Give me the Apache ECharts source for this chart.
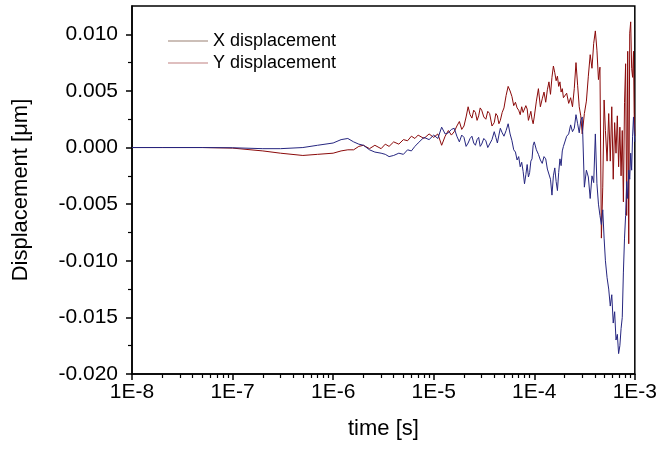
<!DOCTYPE html>
<html>
<head>
<meta charset="utf-8">
<script src="https://cdn.jsdelivr.net/npm/echarts@6/dist/echarts.min.js"></script>
<style>
  html, body { margin: 0; padding: 0; background: #fff; }
  #chart { width: 660px; height: 453px; }
</style>
</head>
<body>
<div id="chart"></div>
<script>
// time in seconds (log axis)
const times = [
  1e-8, 2e-8, 5e-8, 1e-7, 2e-7, 3e-7, 5e-7, 7e-7,
  1e-6, 1.2e-6, 1.4e-6, 1.6e-6, 1.8e-6, 2e-6, 2.3e-6, 2.6e-6, 3e-6, 3.3e-6,
  3.6e-6, 4e-6, 4.5e-6, 5e-6, 5.5e-6, 6e-6, 6.5e-6, 7e-6, 8e-6, 9e-6,
  1e-5, 1.1e-5, 1.2e-5, 1.3e-5, 1.4e-5, 1.5e-5, 1.6e-5, 1.7e-5, 1.8e-5, 1.9e-5,
  2e-5, 2.1e-5, 2.2e-5, 2.3e-5, 2.4e-5, 2.5e-5, 2.6e-5, 2.7e-5, 2.8e-5, 2.9e-5,
  3e-5, 3.15e-5, 3.3e-5, 3.45e-5, 3.6e-5, 3.8e-5, 4e-5, 4.15e-5, 4.3e-5, 4.45e-5,
  4.6e-5, 4.8e-5, 5e-5, 5.25e-5, 5.5e-5, 5.75e-5, 6e-5, 6.25e-5, 6.5e-5, 6.75e-5,
  7e-5, 7.25e-5, 7.5e-5, 7.75e-5, 8e-5, 8.25e-5, 8.5e-5, 8.75e-5, 9e-5, 9.25e-5,
  9.5e-5, 9.75e-5,
  1e-4, 1.05e-4, 1.1e-4, 1.15e-4, 1.2e-4, 1.25e-4, 1.3e-4, 1.35e-4, 1.4e-4, 1.45e-4,
  1.5e-4, 1.55e-4, 1.6e-4, 1.65e-4, 1.7e-4, 1.75e-4, 1.8e-4, 1.85e-4, 1.9e-4, 1.95e-4,
  2e-4, 2.1e-4, 2.2e-4, 2.3e-4, 2.4e-4, 2.5e-4, 2.6e-4, 2.7e-4, 2.8e-4, 2.9e-4,
  3e-4, 3.15e-4, 3.3e-4, 3.45e-4, 3.6e-4, 3.75e-4, 3.9e-4, 4.05e-4, 4.2e-4, 4.35e-4,
  4.5e-4, 4.65e-4, 4.8e-4, 4.95e-4,
  5.1e-4, 5.3e-4, 5.5e-4, 5.7e-4, 5.9e-4, 6.1e-4, 6.3e-4, 6.5e-4, 6.7e-4, 6.9e-4,
  7.1e-4, 7.3e-4, 7.5e-4, 7.7e-4, 7.9e-4, 8.1e-4, 8.3e-4, 8.5e-4, 8.7e-4, 8.9e-4,
  9.1e-4, 9.3e-4, 9.5e-4, 9.7e-4, 9.85e-4, 1e-3
];

const xDisp = [
  0, 0, 0, -0.00005, -0.0003, -0.0005, -0.0007, -0.0006,
  -0.0005, -0.0003, -0.0002, -0.0002, 0.0001, 0.0002, -0.0001, 0.0002, -0.0001, 0.0003,
  0.0001, 0.0005, 0.0003, 0.0007, 0.0006, 0.0010, 0.0008, 0.0011, 0.0008, 0.0012,
  0.0009, 0.0012, 0.0002, 0.0010, 0.0015, 0.0011, 0.0014, 0.0019, 0.0023, 0.0016,
  0.0019, 0.0027, 0.0036, 0.0029, 0.0026, 0.0033, 0.0031, 0.0024, 0.0028, 0.0035,
  0.0033, 0.0027, 0.0025, 0.0032, 0.0030, 0.0019, 0.0022, 0.0030, 0.0028, 0.0021,
  0.0024, 0.0031, 0.0035, 0.0046, 0.0054, 0.0050, 0.0045, 0.0037, 0.0040, 0.0035,
  0.0033, 0.0029, 0.0036, 0.0031, 0.0030, 0.0037, 0.0034, 0.0024, 0.0028, 0.0032,
  0.0025, 0.0021,
  0.0027, 0.0041, 0.0052, 0.0036, 0.0043, 0.0049, 0.0040, 0.0051, 0.0058, 0.0047,
  0.0062, 0.0072, 0.0066, 0.0059, 0.0063, 0.0054, 0.0058, 0.0049, 0.0052, 0.0044,
  0.0043, 0.0048, 0.0039, 0.0044, 0.0036, 0.0052, 0.0075, 0.0055, 0.0036, 0.0028,
  0.0012, 0.0030, 0.0041, 0.0063, 0.0082, 0.0070, 0.0092, 0.0103, 0.0086, 0.0060,
  0.0071, -0.0080, -0.0035, 0.0042,
  0.0015, -0.0012, 0.0030, -0.0012, 0.0036, -0.0028, 0.0022, -0.0005, 0.0028, -0.0017,
  0.0018, -0.0025, 0.0015, -0.0048, 0.0040, 0.0074, -0.0060, 0.0085, -0.0085, 0.0101,
  0.0111, 0.0070, 0.0062, 0.0085, 0.0030, 0.0010
];

const yDisp = [
  0, 0, 0, -0.00002, -0.0001, -0.0001, 0.0, 0.0002,
  0.0004, 0.0007, 0.0008, 0.0005, 0.0003, 0.0002, -0.0002, -0.0004, -0.0005, -0.0006,
  -0.0008, -0.0007, -0.0005, -0.0006, -0.0002, -0.0003, 0.0001, 0.0004, 0.0009, 0.0007,
  0.0011, 0.0008, 0.0018, 0.0012, 0.0013, 0.0016, 0.0017, 0.0010, 0.0005, 0.0011,
  0.0009, 0.0001, 0.0004, 0.0008, 0.0010, 0.0004, 0.0002, 0.0007, 0.0009, 0.0001,
  0.0003, 0.0008, 0.0006, 0.0000, -0.0001, 0.0007, 0.0014, 0.0009, 0.0004, 0.0011,
  0.0017, 0.0013, 0.0010, 0.0015, 0.0021, 0.0012, 0.0006, -0.0002, -0.0004, -0.0011,
  -0.0008, -0.0017, -0.0013, -0.0021, -0.0032, -0.0024, -0.0015, -0.0026, -0.0022, -0.0012,
  -0.0010, 0.0002,
  0.0005, -0.0002, -0.0006, -0.0011, -0.0014, -0.0008, -0.0010, -0.0019, -0.0020, -0.0028,
  -0.0042, -0.0025, -0.0018, -0.0030, -0.0038, -0.0022, -0.0010, -0.0016, -0.0003, 0.0001,
  0.0004, 0.0010, 0.0012, 0.0020, 0.0014, 0.0017, 0.0029, 0.0021, 0.0013, 0.0024,
  0.0027, -0.0035, -0.0020, -0.0026, -0.0045, -0.0025, -0.0031, 0.0012, -0.0032, -0.0050,
  -0.0060, -0.0068, -0.0055, -0.0080,
  -0.0100, -0.0115, -0.0125, -0.0140, -0.0130, -0.0155, -0.0145, -0.0170, -0.0165, -0.0182,
  -0.0175, -0.0160, -0.0150, -0.0110, -0.0080, -0.0060, -0.0030, -0.0045, -0.0020, -0.0028,
  -0.0005, -0.0020, 0.0010, 0.0027, 0.0015, 0.0005
];

const yTicks = [-0.02, -0.015, -0.01, -0.005, 0, 0.005, 0.01];
const yMinorTicks = [-0.0175, -0.0125, -0.0075, -0.0025, 0.0025, 0.0075];
const decades = [-8, -7, -6, -5, -4];

// 2..9 minor ticks of each decade, in log10 space
const xMinorTicks = [];
decades.forEach(d => {
  for (let k = 2; k <= 9; k++) xMinorTicks.push(d + Math.log10(k));
});

const font = "'Liberation Sans', Arial, sans-serif";
const chart = echarts.init(document.getElementById('chart'));

chart.setOption({
  animation: false,
  backgroundColor: '#fff',
  textStyle: { fontFamily: font, color: '#000' },
  legend: {
    orient: 'vertical',
    left: 163,
    top: 27,
    itemWidth: 40,
    itemHeight: 12,
    itemGap: 4,
    textStyle: { fontSize: 18, fontFamily: font, color: '#000' },
    data: [
      { name: 'X displacement', icon: 'path://M0,0 L40,0 L40,1 L0,1 Z', itemStyle: { color: '#9a8072' } },
      { name: 'Y displacement', icon: 'path://M0,0 L40,0 L40,1 L0,1 Z', itemStyle: { color: '#c08080' } }
    ]
  },
  grid: {
    left: 132, right: 23, top: 6, bottom: 79,
    show: true, borderColor: '#000', borderWidth: 1.5
  },
  xAxis: [
    {
      type: 'log', logBase: 10, min: 1e-8, max: 1e-3,
      name: 'time [s]', nameLocation: 'middle', nameGap: 44,
      nameTextStyle: { fontSize: 22, fontFamily: font, color: '#000' },
      axisLine: { onZero: false, lineStyle: { color: '#000', width: 1.5 } },
      axisTick: { length: 6, lineStyle: { color: '#000', width: 1.5 } },
      axisLabel: {
        fontSize: 21, color: '#000', margin: 8, fontFamily: font,
        formatter: v => '1E' + Math.round(Math.log10(v))
      },
      splitLine: { show: false }
    },
    {
      type: 'value', min: -8, max: -3, position: 'bottom',
      axisLine: { show: false, onZero: false },
      axisTick: { length: 4, customValues: xMinorTicks, lineStyle: { color: '#000', width: 1.2 } },
      axisLabel: { show: false },
      splitLine: { show: false }
    }
  ],
  yAxis: [
    {
      type: 'value', min: -0.02, max: 0.0125, interval: 0.005,
      name: 'Displacement [μm]', nameLocation: 'middle', nameGap: 100,
      nameTextStyle: { fontSize: 22, fontFamily: font, color: '#000' },
      axisLine: { show: true, onZero: false, lineStyle: { color: '#000', width: 1.5 } },
      axisTick: { show: true, length: 6, customValues: yTicks, lineStyle: { color: '#000', width: 1.5 } },
      axisLabel: {
        fontSize: 21, color: '#000', margin: 14, fontFamily: font,
        customValues: yTicks,
        formatter: v => v.toFixed(3)
      },
      splitLine: { show: false }
    },
    {
      type: 'value', min: -0.02, max: 0.0125, position: 'left',
      axisLine: { show: false, onZero: false },
      axisTick: { show: true, length: 4, customValues: yMinorTicks, lineStyle: { color: '#000', width: 1.2 } },
      axisLabel: { show: false },
      splitLine: { show: false }
    }
  ],
  series: [
    {
      name: 'X displacement', type: 'line', xAxisIndex: 0, yAxisIndex: 0,
      data: times.map((t, i) => [t, xDisp[i]]),
      showSymbol: false, symbol: 'none',
      lineStyle: { color: '#8b0a0a', width: 1 },
      itemStyle: { color: '#8b0a0a' }
    },
    {
      name: 'Y displacement', type: 'line', xAxisIndex: 0, yAxisIndex: 0,
      data: times.map((t, i) => [t, yDisp[i]]),
      showSymbol: false, symbol: 'none',
      lineStyle: { color: '#262680', width: 1 },
      itemStyle: { color: '#262680' }
    }
  ]
});
</script>
</body>
</html>
